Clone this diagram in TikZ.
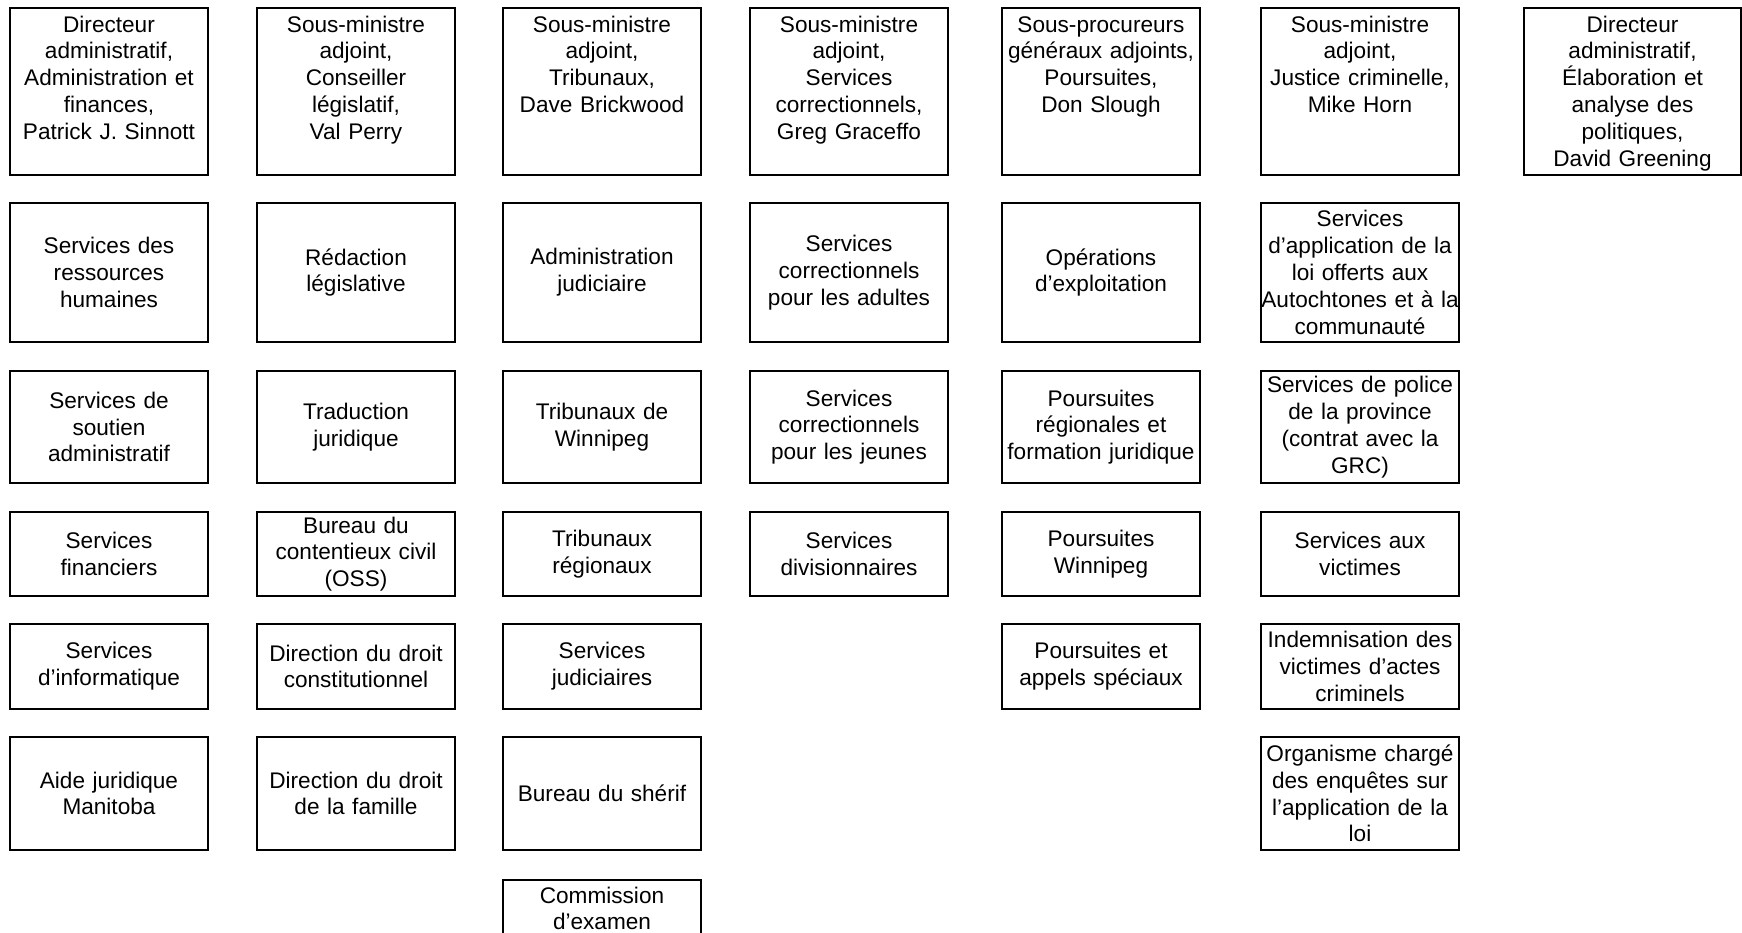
\documentclass[tikz,border=0pt]{standalone}
\usepackage{fontspec}
\setmainfont{Liberation Sans}
\usepackage{tikz}

\tikzset{
  boite/.style={draw, line width=2pt, inner ysep=0pt, inner xsep=-8pt, align=center,
    text width=214pt, font=\fontsize{22.6}{26.8}\selectfont},
  entete/.style={anchor=north, text height=24pt, text depth=143pt},
  large/.style={text width=233pt},
  rang2/.style={minimum height=139pt},
  rang3/.style={minimum height=112pt},
  rang4/.style={minimum height=84pt},
  rang5/.style={minimum height=85pt},
  rang6/.style={minimum height=113pt}
}

\begin{document}
\begin{tikzpicture}[x=1pt,y=1pt]
	  \useasboundingbox (0,0) rectangle (1742,-932);
	  \clip (0,0) rectangle (1742,-932);
	  \node[boite,entete] (dirAdmin) at (109,-7) {Directeur\\administratif,\\Administration et\\finances,\\Patrick J. Sinnott};
	  \node[boite,entete] (smaLegis) at (356,-7) {Sous-ministre\\adjoint,\\Conseiller\\législatif,\\Val Perry};
	  \node[boite,entete] (smaTrib) at (602,-7) {Sous-ministre\\adjoint,\\Tribunaux,\\Dave Brickwood};
	  \node[boite,entete] (smaCorr) at (849,-7) {Sous-ministre\\adjoint,\\Services\\correctionnels,\\Greg Graceffo};
	  \node[boite,entete] (spgPours) at (1101,-7) {Sous-procureurs\\généraux adjoints,\\Poursuites,\\Don Slough};
	  \node[boite,entete] (smaJustice) at (1360,-7) {Sous-ministre\\adjoint,\\Justice criminelle,\\Mike Horn};
	  \node[boite,entete,large] (dirPolit) at (1632.5,-7) {Directeur\\administratif,\\Élaboration et\\analyse des\\politiques,\\David Greening};
	  \node[boite,rang2] (rh) at (109,-272.5) {Services des\\ressources\\humaines};
	  \node[boite,rang2] (redaction) at (356,-272.5) {Rédaction\\législative};
	  \node[boite,rang2] (adminJud) at (602,-272.5) {Administration\\judiciaire};
	  \node[boite,rang2] (corrAdultes) at (849,-272.5) {Services\\correctionnels\\pour les adultes};
	  \node[boite,rang2] (operations) at (1101,-272.5) {Opérations\\d’exploitation};
	  \node[boite,rang2] (applLoi) at (1360,-272.5) {Services\\d’application de la\\loi offerts aux\\Autochtones et à la\\communauté};
	  \node[boite,rang3] (soutien) at (109,-427) {Services de\\soutien\\administratif};
	  \node[boite,rang3] (traduction) at (356,-427) {Traduction\\juridique};
	  \node[boite,rang3] (tribWpg) at (602,-427) {Tribunaux de\\Winnipeg};
	  \node[boite,rang3] (corrJeunes) at (849,-427) {Services\\correctionnels\\pour les jeunes};
	  \node[boite,rang3] (poursReg) at (1101,-427) {Poursuites\\régionales et\\formation juridique};
	  \node[boite,rang3] (policeProv) at (1360,-427) {Services de police\\de la province\\(contrat avec la\\GRC)};
	  \node[boite,rang4] (financiers) at (109,-554) {Services\\financiers};
	  \node[boite,rang4] (contentieux) at (356,-554) {Bureau du\\contentieux civil\\(OSS)};
	  \node[boite,rang4] (tribReg) at (602,-554) {Tribunaux\\régionaux};
	  \node[boite,rang4] (divisionnaires) at (849,-554) {Services\\divisionnaires};
	  \node[boite,rang4] (poursWpg) at (1101,-554) {Poursuites\\Winnipeg};
	  \node[boite,rang4] (victimes) at (1360,-554) {Services aux\\victimes};
	  \node[boite,rang5] (informatique) at (109,-666.5) {Services\\d’informatique};
	  \node[boite,rang5] (droitConst) at (356,-666.5) {Direction du droit\\constitutionnel};
	  \node[boite,rang5] (servJud) at (602,-666.5) {Services\\judiciaires};
	  \node[boite,rang5] (poursSpec) at (1101,-666.5) {Poursuites et\\appels spéciaux};
	  \node[boite,rang5] (indemnisation) at (1360,-666.5) {Indemnisation des\\victimes d’actes\\criminels};
	  \node[boite,rang6] (aideJur) at (109,-793.5) {Aide juridique\\Manitoba};
	  \node[boite,rang6] (droitFam) at (356,-793.5) {Direction du droit\\de la famille};
	  \node[boite,rang6] (sherif) at (602,-793.5) {Bureau du shérif};
	  \node[boite,rang6] (enquetes) at (1360,-793.5) {Organisme chargé\\des enquêtes sur\\l’application de la\\loi};
	  \node[boite,anchor=north,text height=23pt,text depth=100pt] (commission) at (602,-879) {Commission\\d’examen};
	\end{tikzpicture}
\end{document}
